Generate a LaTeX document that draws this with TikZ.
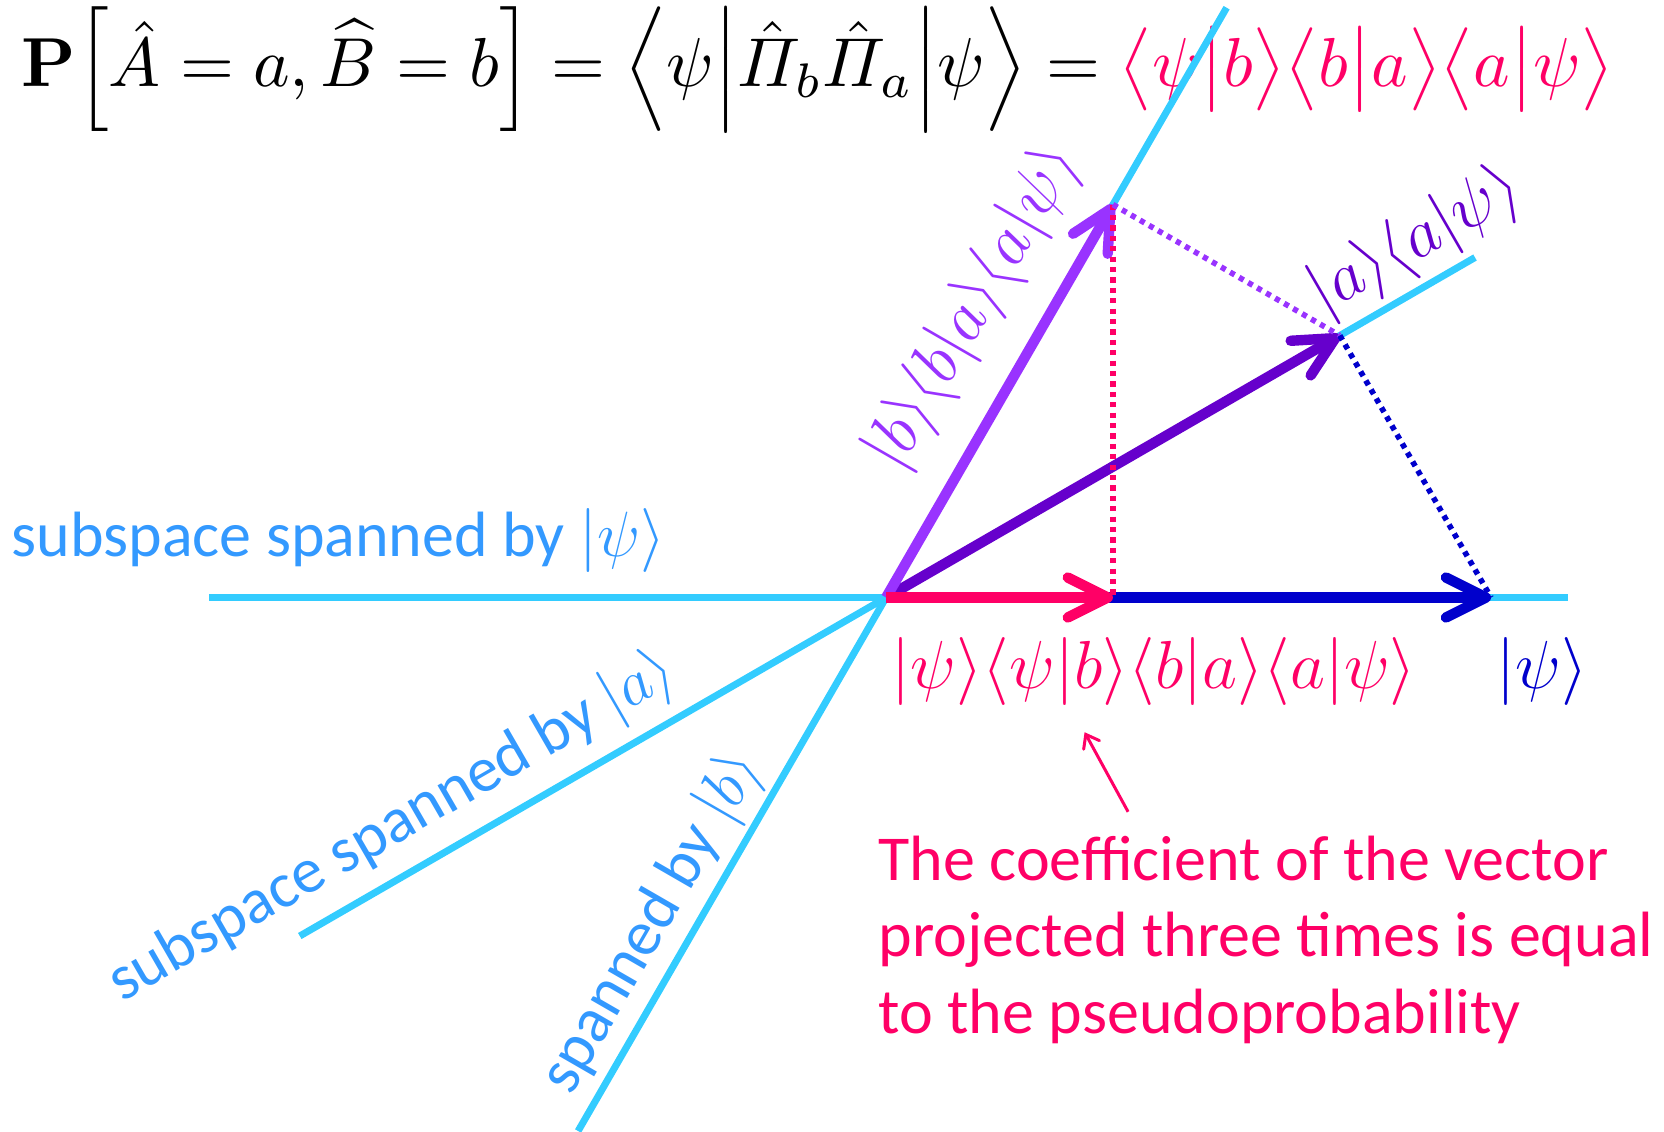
\RequirePackage{fix-cm}
\documentclass[tikz,border=0pt]{standalone}
\usepackage[no-math]{fontspec}
\setmainfont{Carlito}
\usepackage{amsmath}
\usepackage{graphicx}
\usetikzlibrary{arrows.meta}
\definecolor{cyanL}{RGB}{51,204,255}
\definecolor{lblBlue}{RGB}{51,153,255}
\definecolor{pinkR}{RGB}{255,0,102}
\definecolor{purpB}{RGB}{153,51,255}
\definecolor{violA}{RGB}{102,0,204}
\definecolor{blueP}{RGB}{0,0,204}
\begin{document}
\begin{tikzpicture}[x=0.5pt,y=0.5pt,
  axisline/.style={cyanL, line width=3.5pt},
  vec/.style={line width=5.2pt, -{Straight Barb[length=20pt,width=20pt,line cap=round,line join=round]}},
  dotl/.style={line width=2.8pt, dash pattern=on 2.6pt off 2.6pt},
  lbl/.style={inner sep=0pt, font=\fontsize{32}{38.4}\selectfont},
  mlbl/.style={inner sep=0pt, font=\fontsize{34}{40}\selectfont},
]
\useasboundingbox (-886.1,-533.5) rectangle (777.9,597.5);
% key points
\coordinate (O) at (0,0);
\coordinate (P) at (605,0);
\coordinate (A) at (453.7,262.0);
\coordinate (B) at (226.9,392.9);
\coordinate (R) at (226.9,0);
% axis ends
\coordinate (h1) at (-677,0);
\coordinate (h2) at (681.4,0);
\coordinate (a1) at (-586.3,-338.5);
\coordinate (a2) at (588.9,340);
\coordinate (b1) at (-308,-533.5);
\coordinate (b2) at (340.5,589.8);
% title
\node[anchor=west, inner sep=0pt] (title) at (-865,528) {\resizebox{796pt}{!}{$\displaystyle \mathbf{P}\Big[\hat{A}=a,\widehat{B}=b\Big]=\Big\langle\psi\Big|\hat{\varPi}_b\hat{\varPi}_a\Big|\psi\Big\rangle=\color{pinkR}\big\langle\psi\big|b\big\rangle\big\langle b\big|a\big\rangle\big\langle a\big|\psi\big\rangle$}};
% subspaces
\draw[axisline] (h1) -- (h2);
\draw[axisline] (a1) -- (a2);
\draw[axisline] (b1) -- (b2);
% vectors
\draw[vec, blueP] (O) -- (P);
\draw[vec, violA] (O) -- (A);
\draw[vec, purpB] (O) -- (B);
\draw[vec, pinkR] (O) -- (R);
% projections
\draw[dotl, pinkR] (B) -- (R);
\draw[dotl, purpB] (B) -- (A);
\draw[dotl, blueP] (A) -- (P);
% labels
\node[lbl, lblBlue, anchor=base west] (lpsi) at (-875,41.5) {subspace spanned by $|\psi\rangle$};
\node[lbl, lblBlue, rotate=30] (la) at (-493.3,-230.6) {subspace spanned by $|a\rangle$};
\node[lbl, lblBlue, rotate=60] (lb) at (-233.3,-325.8) {spanned by $|b\rangle$};
\node[mlbl, purpB, rotate=60] (lbv) at (88.2,289.7) {$|b\rangle\langle b|a\rangle\langle a|\psi\rangle$};
\node[mlbl, violA, rotate=30] (lav) at (530,356) {$|a\rangle\langle a|\psi\rangle$};
\node[mlbl, pinkR] (lrv) at (268,-74.3) {$|\psi\rangle\langle\psi|b\rangle\langle b|a\rangle\langle a|\psi\rangle$};
\node[mlbl, blueP] (lpv) at (656.4,-74.3) {$|\psi\rangle$};
% annotation
\coordinate (n1) at (242,-214.3);
\coordinate (n2) at (198.5,-134.7);
\draw[pinkR, line width=1.5pt, -{Straight Barb[length=6pt,width=9pt,line cap=round]}] (n1) -- (n2);
\node[lbl, pinkR, anchor=base west] (t1) at (-8,-282.5) {The coefficient of the vector};
\node[lbl, pinkR, anchor=base west] (t2) at (-8,-359.2) {projected three times is equal};
\node[lbl, pinkR, anchor=base west] (t3) at (-8,-435.5) {to the pseudoprobability};
\end{tikzpicture}
\end{document}
